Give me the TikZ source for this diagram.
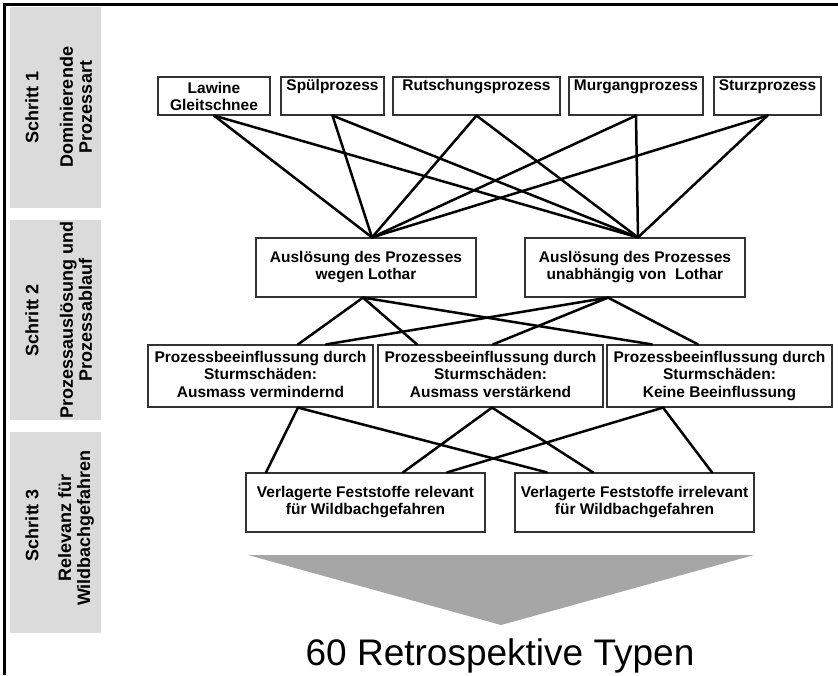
\documentclass[tikz,border=0pt]{standalone}
\usepackage{fontspec}
\setmainfont{Liberation Sans}
\usetikzlibrary{positioning}

\begin{document}
\begin{tikzpicture}[x=1pt,y=-1pt]

\tikzstyle{box1}=[draw=black!80, line width=1.2pt, inner sep=2pt, minimum height=38pt, align=center, font=\bfseries\fontsize{15.5}{17}\selectfont]
\tikzstyle{box1t}=[box1, text height=11pt, text depth=23pt]
\tikzstyle{box2}=[box1, minimum width=220pt, minimum height=59pt]
\tikzstyle{box3}=[box1, minimum width=225pt, minimum height=62pt, text depth=4pt, font=\bfseries\fontsize{15.5}{17.5}\selectfont]
\tikzstyle{box4}=[box1, minimum width=239pt, minimum height=59pt]
\tikzstyle{panel}=[fill=black!14, minimum width=91pt, minimum height=201pt, inner sep=0pt]
\tikzstyle{side}=[rotate=90, align=center, font=\bfseries\fontsize{18}{19}\selectfont]
\tikzstyle{link}=[line width=2.5pt, line cap=round]

\useasboundingbox (0,0) rectangle (838,675);

\draw [line width=3pt] (4.5,675) -- (4.5,4.5) -- (838,4.5);

% steps on the left
\node (p1) [panel] at (55.5,107.5) {};
\node (p2) [panel, minimum height=200pt] at (55.5,320) {};
\node (p3) [panel] at (55.5,532.5) {};
\node (s1) [side] at (32,107.5) {Schritt 1};
\node (t1) [side] at (76,107) {Dominierende\\Prozessart};
\node (s2) [side] at (32,320) {Schritt 2};
\node (t2) [side] at (76,320) {Prozessauslösung und\\Prozessablauf};
\node (s3) [side] at (32,525) {Schritt 3};
\node (t3) [side] at (76,528) {Relevanz für\\Wildbachgefahren};

% step 1
\node (law) [box1, minimum width=112pt] at (214,96) {Lawine\\Gleitschnee};
\node (spuel) [box1t, minimum width=103pt] at (332.5,96) {Spülprozess};
\node (rutsch) [box1t, minimum width=167pt] at (476.5,96) {Rutschungsprozess};
\node (mur) [box1t, minimum width=134pt] at (636,96) {Murgangprozess};
\node (sturz) [box1t, minimum width=107pt] at (767.5,96) {Sturzprozess};

% step 2
\node (lo) [box2] at (366,267.5) {Auslösung des Prozesses\\wegen Lothar};
\node (unab) [box2] at (635,267.5) {Auslösung des Prozesses\\unabhängig von~ Lothar};

\node (vermin) [box3] at (260.5,376) {Prozessbeeinflussung durch\\Sturmschäden:\\Ausmass vermindernd};
\node (verst) [box3] at (490.5,376) {Prozessbeeinflussung durch\\Sturmschäden:\\Ausmass verstärkend};
\node (keine) [box3] at (719.5,376) {Prozessbeeinflussung durch\\Sturmschäden:\\Keine Beeinflussung};

% step 3
\node (rel) [box4] at (365.5,502.5) {Verlagerte Feststoffe relevant\\für Wildbachgefahren};
\node (irrel) [box4] at (634.5,502.5) {Verlagerte Feststoffe irrelevant\\für Wildbachgefahren};

\foreach \n in {law,spuel,rutsch,mur,sturz}{
  \draw [link] (\n.south) -- ([xshift=6pt]lo.north);
  \draw [link] (\n.south) -- ([xshift=3pt]unab.north);
}

\draw [link] ([xshift=-3pt]lo.south) -- ([xshift=37.5pt]vermin.north);
\draw [link] ([xshift=-3pt]lo.south) -- ([xshift=-73.5pt]verst.north);
\draw [link] ([xshift=-3pt]lo.south) -- ([xshift=-67.5pt]keine.north);
\draw [link] ([xshift=-27pt]unab.south) -- ([xshift=65.5pt]vermin.north);
\draw [link] ([xshift=-27pt]unab.south) -- ([xshift=2.5pt]verst.north);
\draw [link] ([xshift=-27pt]unab.south) -- ([xshift=-21.5pt]keine.north);

\draw [link] ([xshift=37.5pt]vermin.south) -- ([xshift=-99.5pt]rel.north);
\draw [link] ([xshift=37.5pt]vermin.south) -- ([xshift=-87.5pt]irrel.north);
\draw [link] ([xshift=1.5pt]verst.south) -- ([xshift=37.5pt]rel.north);
\draw [link] ([xshift=1.5pt]verst.south) -- ([xshift=-41.5pt]irrel.north);
\draw [link] ([xshift=-56.5pt]keine.south) -- ([xshift=81.5pt]rel.north);
\draw [link] ([xshift=-56.5pt]keine.south) -- ([xshift=77.5pt]irrel.north);

\fill [black!35] (248,555) -- (754,555) -- (501,625) -- cycle;
\node (typen) [anchor=base, font=\fontsize{37}{40}\selectfont] at (500,665) {60 Retrospektive Typen};

\end{tikzpicture}
\end{document}
